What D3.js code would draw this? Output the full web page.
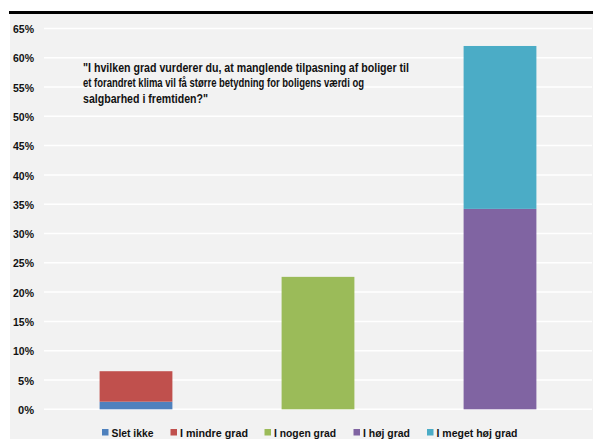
<!DOCTYPE html>
<html>
<head>
<meta charset="utf-8">
<script src="https://cdn.jsdelivr.net/npm/d3@7"></script>
<style>
  html, body { margin: 0; padding: 0; background: #ffffff; }
  svg { display: block; }
  text { font-family: "Liberation Sans", Arial, sans-serif; font-weight: bold; fill: #111111; }
</style>
</head>
<body>
<svg id="chart" width="593" height="439"></svg>
<script>
// Answer groups along the x axis (one stacked column each)
const groups = ["lav", "middel", "høj"];
// Response categories, in stacking / legend order
const categories = ["Slet ikke", "I mindre grad", "I nogen grad", "I høj grad", "I meget høj grad"];
// Share of respondents (%) per category, and the column each sits in
const shares = [1.3, 5.2, 22.6, 34.2, 27.8];
const columnOf = ["lav", "lav", "middel", "høj", "høj"];
const colors = ["#4f81bd", "#c0504d", "#9bbb59", "#8064a2", "#4bacc6"];
// Y axis ticks
const yTicks = [0, 5, 10, 15, 20, 25, 30, 35, 40, 45, 50, 55, 60, 65];
const questionLines = [
  "\"I hvilken grad vurderer du, at manglende tilpasning af boliger til",
  "et forandret klima vil få større betydning for boligens værdi og",
  "salgbarhed i fremtiden?\""
];
const questionWidths = [326, 281, 125];
const legendWidths = [42, 68, 62, 47, 81];

const svg = d3.select("#chart");

// Panel background and the heavy rule along its top
svg.append("rect").attr("x", 10).attr("y", 12).attr("width", 583).attr("height", 427).attr("fill", "#f2f2f2");
svg.append("rect").attr("x", 9).attr("y", 11).attr("width", 584).attr("height", 3).attr("fill", "#000");

const plot = { left: 45, right: 591, top: 28.4, bottom: 409.3 };

const x = d3.scaleBand().domain(groups).range([plot.left, plot.right]).paddingInner(0.6).paddingOuter(0.3);
const y = d3.scaleLinear().domain([0, 65]).range([plot.bottom, plot.top]);

// Gridlines
svg.append("g").selectAll("line").data(yTicks).join("line")
  .attr("x1", plot.left - 1).attr("x2", plot.right + 1)
  .attr("y1", d => y(d)).attr("y2", d => y(d))
  .attr("stroke", "#ffffff").attr("stroke-width", 1.5);

// Y axis labels via d3.axisLeft, domain and ticks hidden
const yAxis = svg.append("g").attr("transform", "translate(34,0)")
  .call(d3.axisLeft(y).tickValues(yTicks).tickSize(0).tickPadding(0).tickFormat(d => d + "%"));
yAxis.select(".domain").remove();
yAxis.selectAll("text").attr("font-size", 11.5).attr("font-family", "Liberation Sans, Arial, sans-serif")
  .attr("font-weight", "bold").attr("fill", "#111111").attr("dy", "0.36em")
  .attr("textLength", d => (String(d).length > 1 ? 21 : 16)).attr("lengthAdjust", "spacingAndGlyphs");

// Stacked segments: compute the running base within each column
const segs = [];
const running = {};
categories.forEach((c, i) => {
  const g = columnOf[i];
  const base = running[g] || 0;
  segs.push({ cat: c, group: g, y0: base, y1: base + shares[i], color: colors[i] });
  running[g] = base + shares[i];
});

svg.append("g").selectAll("rect").data(segs).join("rect")
  .attr("x", d => x(d.group))
  .attr("width", x.bandwidth())
  .attr("y", d => y(d.y1))
  .attr("height", d => y(d.y0) - y(d.y1))
  .attr("fill", d => d.color);

// Question text
const q = svg.append("g");
questionLines.forEach((t, i) => {
  q.append("text").attr("x", 83).attr("y", 72 + i * 15.3)
    .attr("font-size", 12.5)
    .attr("textLength", questionWidths[i]).attr("lengthAdjust", "spacingAndGlyphs")
    .text(t);
});

// Legend
const legendSwatchX = [102, 170.5, 264.5, 353.5, 427];
const lg = svg.append("g");
categories.forEach((c, i) => {
  lg.append("rect").attr("x", legendSwatchX[i]).attr("y", 429).attr("width", 6.5).attr("height", 6.5).attr("fill", colors[i]);
  lg.append("text").attr("x", legendSwatchX[i] + 9.5).attr("y", 436.5)
    .attr("font-size", 11.5)
    .attr("textLength", legendWidths[i]).attr("lengthAdjust", "spacingAndGlyphs")
    .text(c);
});
</script>
</body>
</html>
